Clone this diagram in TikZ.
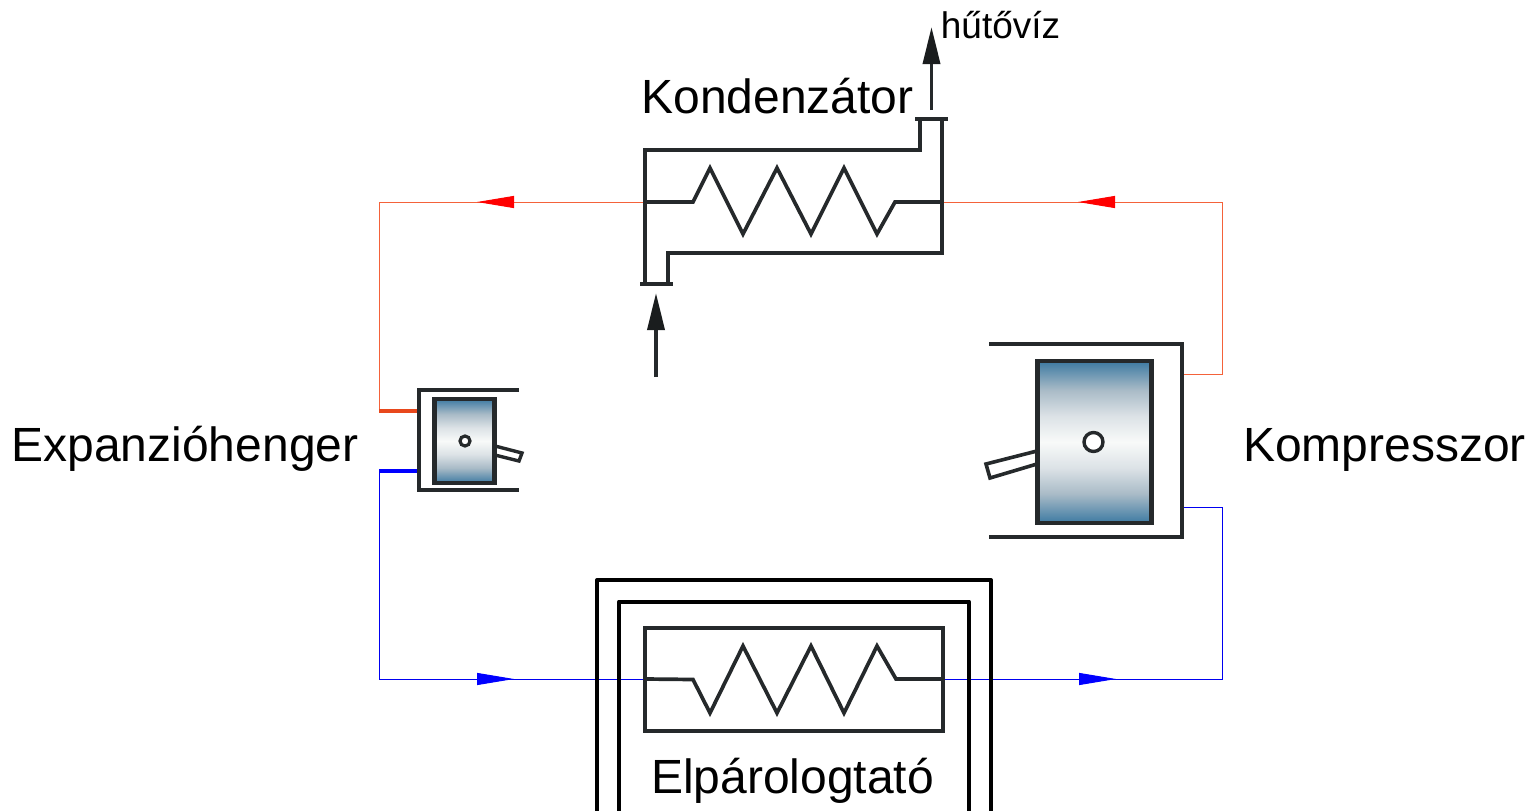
\documentclass[tikz,border=0pt]{standalone}
\usepackage{fontspec}
\setmainfont{Liberation Sans}
\usetikzlibrary{arrows.meta}
\definecolor{steel}{HTML}{25292B}
\definecolor{pistonblue}{HTML}{3D7AA2}
\definecolor{pistongrey}{HTML}{A9BBC7}
\definecolor{pistonpale}{HTML}{DCE2E6}
\definecolor{pistonmid}{HTML}{F8FAF9}
\definecolor{hotline}{HTML}{F4623A}
\definecolor{hotthick}{HTML}{E8481C}
\definecolor{coldline}{HTML}{0000F0}
\pgfdeclareverticalshading{pistonshade}{100bp}{
  color(0bp)=(pistonblue); color(25bp)=(pistonblue); color(34bp)=(pistongrey); color(42bp)=(pistonpale); color(50bp)=(pistonmid);
  color(58bp)=(pistonpale); color(66bp)=(pistongrey); color(75bp)=(pistonblue); color(100bp)=(pistonblue)}
\tikzset{
  x=1pt,y=-1pt,
  part/.style={draw=steel,line width=4pt,line join=miter},
  coil/.style={draw=steel,line width=3.7pt,line join=miter},
  shell/.style={draw=black,line width=4pt,line join=round},
  piston/.style={rectangle,draw=steel,line width=4.2pt,minimum width=#1,inner sep=0pt,outer sep=0pt,shading=pistonshade},
  pin/.style={circle,draw=steel,fill=white,inner sep=0pt,outer sep=0pt},
  hot/.style={draw=hotline,line width=1pt},
  cold/.style={draw=coldline,line width=1pt},
  hothead/.style={-{Triangle[length=37pt,width=12pt,color=red]}},
  coldhead/.style={-{Triangle[length=37pt,width=12pt,color=blue]}},
  waterflow/.style={draw=steel,line width=3.6pt,-{Triangle[length=37pt,width=17pt,color=steel!70!black]}},
  bigtext/.style={anchor=base,inner sep=0pt,font=\fontsize{48}{50}\selectfont,text=black},
}
\begin{document}
\begin{tikzpicture}
\useasboundingbox (0,0) rectangle (1532,811);
% ports
\coordinate (kondL) at (645,202);
\coordinate (kondR) at (942,202);
\coordinate (lt) at (379,202);
\coordinate (rt) at (1222,202);
\coordinate (redtipL) at (477,202);
\coordinate (redtipR) at (1078,202);
\coordinate (expHot) at (419,411);
\coordinate (expHotC) at (379,411);
\coordinate (expCold) at (419,471);
\coordinate (expColdC) at (379,471);
\coordinate (lb) at (379,679);
\coordinate (rb) at (1222,679);
\coordinate (evapL) at (645,679);
\coordinate (evapR) at (942,679);
\coordinate (bluetipL) at (514,679);
\coordinate (bluetipR) at (1116,679);
\coordinate (compHot) at (1182,374);
\coordinate (compHotC) at (1222,374);
\coordinate (compCold) at (1182,507);
\coordinate (compColdC) at (1222,507);
\coordinate (waterInS) at (656,377);
\coordinate (waterInT) at (656,293);
\coordinate (waterOutS) at (931.5,110);
\coordinate (waterOutT) at (931.5,27);
% refrigerant circuit
\draw[hot] (kondL) -- (lt) -- (expHotC);
\draw[hot,hothead] (kondL) -- (redtipL);
\draw[draw=hotthick,line width=3.4pt] (expHotC) -- (expHot);
\draw[hot] (compHot) -- (compHotC) -- (rt) -- (kondR);
\draw[hot,hothead] (rt) -- (redtipR);
\draw[draw=blue,line width=3.4pt] (expColdC) -- (expCold);
\draw[cold] (expColdC) -- (lb) -- (evapL);
\draw[cold,coldhead] (lb) -- (bluetipL);
\draw[cold] (evapR) -- (rb) -- (compColdC) -- (compCold);
\draw[cold,coldhead] (evapR) -- (bluetipR);
% water arrows
\draw[waterflow] (waterInS) -- (waterInT);
\draw[waterflow] (waterOutS) -- (waterOutT);
% condenser
\draw[part] (645,284) -- (645,150) -- (920,150) -- (920,119);
\draw[part] (942,119) -- (942,253) -- (668,253) -- (668,284);
\draw[part] (915,119) -- (948,119);
\draw[part] (640,284) -- (673,284);
\draw[coil] (kondL) -- (693,202) -- (710,168) -- (743,234) -- (777,168) -- (811,234) -- (844,168) -- (877,234) -- (895,202) -- (kondR);
% expander
\draw[part] (519,390) -- (419,390) -- (419,490) -- (519,490);
\draw[part,line width=3.4pt] (495,446) -- (522,453) -- (519,461) -- (495,455);
\node[piston=60pt,minimum height=84pt] (exppiston) at (464.5,441) {};
\node[pin,line width=3.2pt,minimum size=10pt] (exppin) at (465,441) {};
% compressor
\draw[part] (989,344) -- (1182,344) -- (1182,537) -- (989,537);
\draw[part,line width=3.6pt] (1037,451) -- (986,464) -- (990,478) -- (1037,464);
\node[piston=114pt,minimum height=162pt] (comppiston) at (1094.5,442) {};
\node[pin,line width=3.4pt,minimum size=19pt] (comppin) at (1093.5,442) {};
% evaporator
\draw[shell] (597,811) -- (597,580) -- (991,580) -- (991,811);
\draw[shell] (619,811) -- (619,601.5) -- (969,601.5) -- (969,811);
\draw[part,line width=4.2pt] (645,628) rectangle (943,731);
\draw[coil] (evapL) -- (693,679.5) -- (710,713) -- (743,646) -- (777,713) -- (811,646) -- (844,713) -- (877,646) -- (896,679) -- (evapR);
% labels
\node[bigtext] (kond) at (777.5,113) {Kondenzátor};
\node[bigtext] (exp) at (185,461) {Expanzióhenger};
\node[bigtext] (komp) at (1384.5,461) {Kompresszor};
\node[bigtext] (evap) at (792.5,793) {Elpárologtató};
\node[anchor=base,inner sep=0pt,font=\fontsize{37}{40}\selectfont] (water) at (1000.5,38) {hűtővíz};
\end{tikzpicture}
\end{document}
